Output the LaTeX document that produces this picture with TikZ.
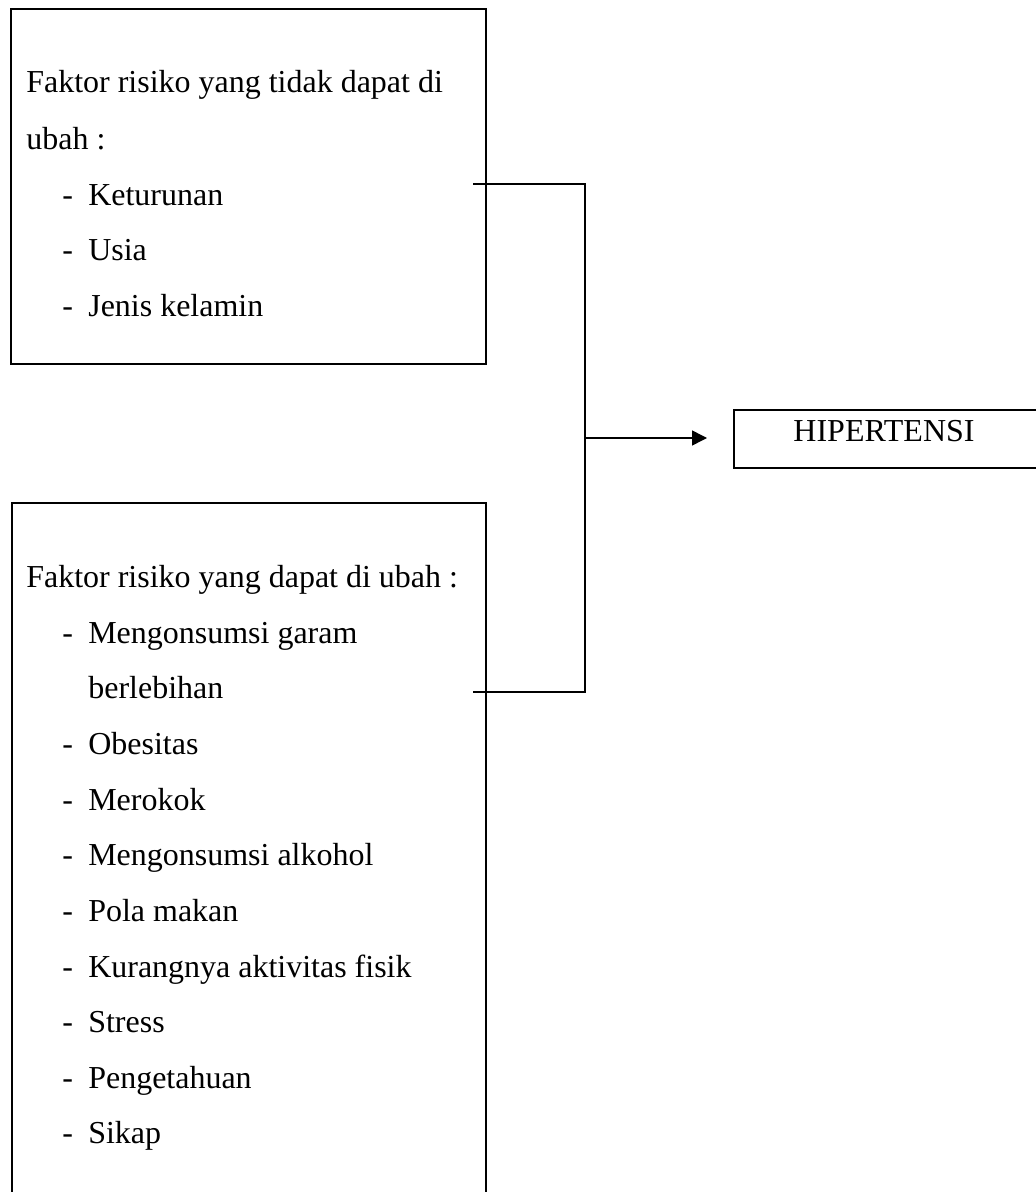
\documentclass[tikz,border=0pt]{standalone}
\usepackage{fontspec}
\setmainfont{Liberation Serif}
\usetikzlibrary{arrows.meta}
\newcommand{\butir}[1]{\makebox[0.52cm][l]{-}#1}

\begin{document}
\begin{tikzpicture}[x=0.02cm,y=-0.02cm,>={Triangle[length=0.3cm,width=0.3cm]},font=\fontsize{18.2}{22}\selectfont,
  kotak/.style={draw,line width=0.04cm,inner sep=0,anchor=north west},
  teks/.style={inner sep=0,anchor=base west},
  garis/.style={line width=0.03cm}]
\useasboundingbox (0,0) rectangle (1035,1192);
% kotak faktor yang tidak dapat diubah
\node[kotak,minimum width=9.5cm,minimum height=7.1cm] (tetap) at (10,8) {};
\node[teks] (t0) at (26,93) {Faktor risiko yang tidak dapat di};
\node[teks] (t1) at (26,150) {ubah :};
\node[teks] (t2) at (62,206) {\butir{Keturunan}};
\node[teks] (t3) at (62,261) {\butir{Usia}};
\node[teks] (t4) at (62,317) {\butir{Jenis kelamin}};
% kotak faktor yang dapat diubah
\node[kotak,minimum width=9.48cm,minimum height=14cm] (ubah) at (11,502) {};
\node[teks] (u0) at (26,587) {Faktor risiko yang dapat di ubah :};
\node[teks] (u1) at (62,643) {\butir{Mengonsumsi garam}};
\node[teks] (u2) at (88,698) {berlebihan};
\node[teks] (u3) at (62,754) {\butir{Obesitas}};
\node[teks] (u4) at (62,810) {\butir{Merokok}};
\node[teks] (u5) at (62,865) {\butir{Mengonsumsi alkohol}};
\node[teks] (u6) at (62,921) {\butir{Pola makan}};
\node[teks] (u7) at (62,977) {\butir{Kurangnya aktivitas fisik}};
\node[teks] (u8) at (62,1032) {\butir{Stress}};
\node[teks] (u9) at (62,1088) {\butir{Pengetahuan}};
\node[teks] (u10) at (62,1143) {\butir{Sikap}};
% hasil
\node[kotak,minimum width=6.14cm,minimum height=1.16cm] (hip) at (733,409) {};
\node[inner sep=0,anchor=base] (hipteks) at (884,441) {HIPERTENSI};
% penghubung
\coordinate (a1) at (473,184);
\coordinate (a2) at (473,692);
\coordinate (s1) at (585,184);
\coordinate (s2) at (585,692);
\coordinate (sm) at (585,438);
\draw[garis] (a1) -- (s1) -- (s2) -- (a2);
\draw[garis,->,shorten >=0.52cm] (sm) -- (hip.west |- sm);
\end{tikzpicture}
\end{document}
